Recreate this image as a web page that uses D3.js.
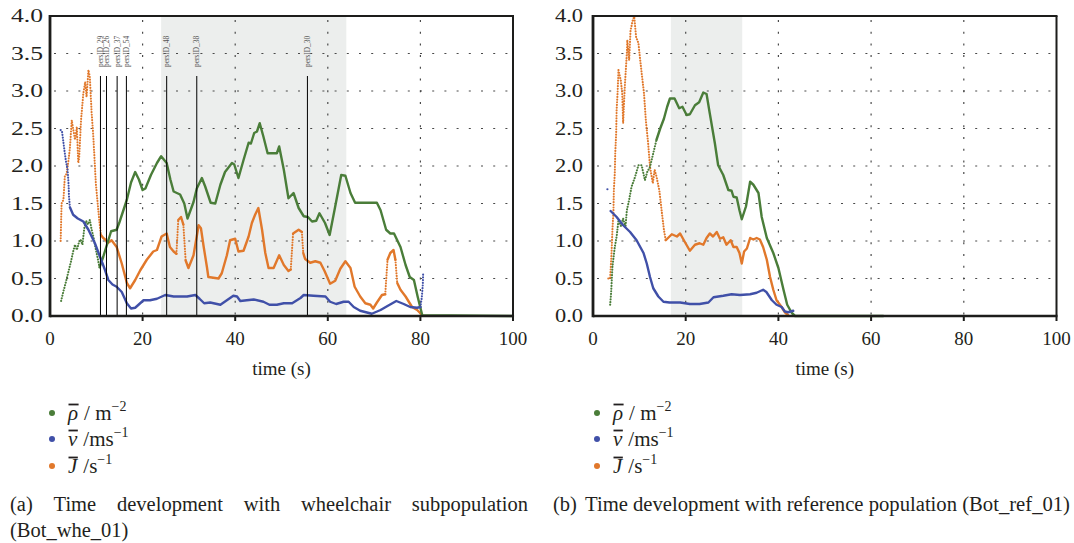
<!DOCTYPE html>
<html><head><meta charset="utf-8">
<script src="https://cdn.jsdelivr.net/npm/d3@7"></script>
<style>
body{margin:0;background:#fff}
svg{display:block}
text{font-family:"Liberation Serif","DejaVu Serif",serif;fill:#231f20}
</style>
</head><body>
<svg id="c" width="1074" height="543"></svg>
<script>
// ---------- data ----------
const yTicks = [0, 0.5, 1, 1.5, 2, 2.5, 3, 3.5, 4];
const xTicks = [0, 20, 40, 60, 80, 100];
const gridY = [0.5, 1, 1.5, 2, 2.5, 3, 3.5];
const gridX = [20, 40, 60, 80];

// (a) wheelchair subpopulation (Bot_whe_01)
const wheShade = [24, 64];
const wheRhoEarly = [[2.4,0.20],[2.9,0.33],[3.3,0.42],[3.7,0.52],[4.1,0.62],[4.5,0.72],[5.0,0.86],[5.4,0.95],[5.8,0.88],[6.2,0.97],[6.6,1.02],[7.0,0.95],[7.4,1.17],[7.8,1.27],[8.2,1.22],[8.6,1.28],[9.0,1.15],[9.4,1.05],[9.8,0.92],[10.2,0.80],[10.7,0.65]];
const wheRho = [[10.7,0.65],[11.5,0.79],[12.3,0.95],[13.2,1.13],[14.4,1.15],[15.0,1.25],[16.6,1.55],[17.5,1.78],[18.4,1.92],[19.2,1.82],[20.0,1.68],[20.6,1.70],[21.8,1.88],[23.1,2.04],[24.0,2.13],[25.2,2.04],[26.0,1.82],[26.7,1.66],[28.1,1.62],[29.0,1.50],[29.7,1.30],[31.0,1.52],[31.7,1.70],[32.8,1.84],[33.5,1.73],[34.7,1.51],[35.7,1.50],[36.8,1.75],[37.8,1.92],[39.3,2.04],[39.8,2.02],[40.7,1.84],[41.8,2.08],[42.9,2.31],[43.4,2.30],[44.1,2.44],[44.7,2.46],[45.3,2.57],[46.1,2.39],[47.0,2.17],[49.0,2.17],[49.5,2.26],[50.5,1.95],[51.5,1.57],[52.6,1.64],[53.7,1.44],[54.8,1.33],[55.7,1.32],[56.6,1.26],[57.5,1.27],[58.2,1.37],[59.4,1.24],[60.4,1.08],[61.6,1.46],[62.9,1.88],[63.8,1.87],[64.9,1.64],[65.9,1.51],[70.6,1.51],[71.4,1.41],[72.6,1.15],[73.5,1.10],[74.3,1.10],[75.7,0.92],[76.8,0.68],[77.7,0.52],[78.6,0.48],[79.4,0.26],[80.4,0.01],[100,0]];
const wheVEarly = [[2.3,2.48],[2.6,2.46],[3.1,2.22],[3.4,2.08],[3.8,1.95],[4.0,1.77],[4.1,1.60],[4.3,1.45]];
const wheV = [[4.3,1.45],[5.0,1.35],[6.0,1.30],[7.2,1.26],[8.3,1.15],[9.7,0.97],[10.8,0.79],[11.9,0.61],[12.6,0.48],[13.5,0.42],[14.4,0.39],[15.5,0.32],[16.6,0.17],[17.5,0.10],[18.4,0.11],[19.3,0.16],[20.2,0.21],[21.6,0.21],[23.1,0.23],[24.9,0.28],[26.7,0.26],[29.6,0.26],[31.4,0.28],[32.3,0.23],[33.3,0.17],[34.6,0.18],[36.8,0.15],[38.2,0.21],[39.6,0.27],[40.4,0.26],[41.1,0.20],[42.5,0.21],[44.0,0.22],[46.1,0.19],[47.4,0.15],[49.0,0.15],[50.5,0.17],[52.3,0.17],[54.1,0.24],[54.8,0.28],[56.9,0.27],[59.5,0.26],[60.5,0.19],[61.8,0.16],[63.4,0.19],[64.5,0.19],[65.6,0.12],[67.0,0.07],[69.5,0.03],[71.4,0.08],[72.8,0.13],[74.8,0.20],[76.4,0.16],[77.8,0.12],[79.3,0.11],[80.0,0.12]];
const wheVLate = [[80.0,0.12],[80.3,0.25],[80.5,0.40],[80.6,0.57]];
const wheJEarly = [[2.3,1.00],[2.5,1.50],[2.9,1.55],[3.2,1.86],[3.6,1.90],[4.0,2.08],[4.3,2.24],[4.7,2.61],[5.0,2.50],[5.4,2.35],[5.8,2.52],[6.1,2.04],[6.3,2.11],[6.7,2.61],[7.2,2.97],[7.6,3.12],[7.9,2.92],[8.3,3.28],[8.6,3.19],[9.0,2.70],[9.3,2.45],[9.6,2.12],[9.9,1.77],[10.3,1.50],[10.7,1.24],[11.0,1.08]];
const wheJ = [[11.0,1.08],[11.5,1.04],[12.1,1.01],[12.4,0.97],[13.3,1.01],[14.4,0.92],[15.5,0.70],[16.6,0.44],[17.3,0.37],[18.4,0.48],[19.5,0.61],[20.9,0.75],[22.3,0.86],[23.1,0.88],[24.1,1.06],[25.2,1.10],[25.9,0.92],[26.7,0.86],[27.3,0.83],[27.7,1.28],[28.3,1.32],[28.8,1.22],[29.3,0.74],[29.9,0.64],[31.0,0.81],[32.1,1.21],[32.6,1.17],[33.2,0.92],[33.9,0.65],[34.2,0.52],[35.3,0.51],[36.4,0.50],[37.1,0.57],[38.2,0.81],[38.9,1.01],[40.0,1.03],[40.7,0.86],[41.8,0.87],[42.9,1.06],[43.6,1.24],[44.3,1.35],[45.0,1.44],[45.8,1.15],[46.5,0.84],[47.2,0.64],[48.3,0.64],[49.5,0.81],[50.5,0.68],[51.5,0.60],[52.0,0.62],[52.5,1.10],[53.7,1.15],[54.4,1.12],[54.7,0.84],[55.1,0.76],[56.2,0.71],[57.3,0.73],[58.4,0.71],[59.3,0.60],[60.5,0.43],[61.6,0.47],[62.7,0.63],[63.8,0.73],[64.9,0.64],[65.8,0.39],[67.0,0.26],[68.1,0.17],[69.2,0.15],[69.8,0.10],[70.6,0.18],[71.7,0.28],[72.4,0.29],[72.9,0.75],[73.5,0.84],[74.2,0.88],[74.6,0.75],[75.0,0.44],[75.7,0.35],[76.8,0.26],[78.2,0.12],[79.3,0.08],[80.4,0.01]];
const whePersIds = ["persID_29", "persID_26", "persID_37", "persID_54", "persID_48", "persID_38", "persID_30"];
const whePersTimes = [10.9, 12.2, 14.5, 16.5, 25.2, 31.7, 55.6];
const whePersTop = 3.2;

// (b) reference population (Bot_ref_01)
const refShade = [16.8, 32.2];
const refRhoEarly = [[3.7,0.15],[3.9,0.30],[4.2,0.66],[4.7,0.92],[5.1,1.06],[5.5,1.28],[6.0,1.20],[6.5,1.30],[7.0,1.18],[7.3,1.41],[7.8,1.55],[8.3,1.72],[9.1,1.86],[9.8,2.01],[10.5,2.01],[11.2,1.81],[11.7,1.92],[12.3,1.99],[13.0,2.17],[13.7,2.35]];
const refRho = [[13.7,2.35],[14.5,2.50],[15.3,2.63],[16.0,2.79],[16.6,2.90],[17.6,2.90],[18.6,2.77],[19.3,2.79],[20.2,2.68],[20.9,2.69],[22.0,2.81],[22.9,2.85],[23.8,2.98],[24.5,2.96],[25.2,2.70],[26.3,2.30],[27.0,2.01],[28.1,1.88],[29.2,1.68],[29.9,1.67],[30.3,1.59],[31.0,1.58],[31.6,1.41],[32.1,1.29],[33.0,1.46],[33.9,1.79],[34.6,1.75],[35.7,1.64],[36.4,1.32],[37.5,1.04],[38.9,0.84],[40.0,0.64],[41.1,0.35],[41.9,0.15],[42.9,0.04],[43.6,0],[62.6,0]];
const refVEarly = [[3.1,1.69],[3.6,1.69]];
const refV = [[3.8,1.40],[5.1,1.32],[6.5,1.21],[8.0,1.12],[9.4,1.01],[10.9,0.84],[11.6,0.70],[12.3,0.52],[13.0,0.37],[14.1,0.26],[15.2,0.19],[16.5,0.18],[18.8,0.18],[20.9,0.16],[23.0,0.16],[24.9,0.18],[26.0,0.25],[28.1,0.27],[29.9,0.29],[31.7,0.28],[33.9,0.29],[35.3,0.31],[36.7,0.35],[37.4,0.32],[38.6,0.21],[39.6,0.15],[40.7,0.12],[41.4,0.06],[42.1,0.05],[43.2,0.07]];
const refJEarly = [[3.3,0.50],[3.7,0.50],[4.0,0.84],[4.2,1.16],[4.4,1.37],[4.5,1.68],[4.7,1.90],[4.8,2.17],[5.0,2.44],[5.1,2.75],[5.3,2.97],[5.5,3.28],[6.0,3.14],[6.3,2.97],[6.5,2.57],[6.7,2.85],[6.9,3.10],[7.3,3.50],[7.4,3.68],[7.8,3.41],[8.1,3.81],[8.6,3.95],[8.9,3.99],[9.3,3.72],[9.8,3.64],[10.1,3.46],[10.5,3.24],[11.0,2.97],[11.4,2.61],[11.9,2.30],[12.3,1.99],[12.9,1.77],[13.3,1.95],[13.7,1.86],[14.3,1.68],[14.8,1.41],[15.3,1.15],[15.7,1.01]];
const refJ = [[15.7,1.01],[17.0,1.09],[18.1,1.06],[18.8,1.10],[19.6,1.01],[20.9,0.87],[22.0,0.95],[23.0,0.97],[23.8,0.95],[24.5,1.04],[25.2,1.10],[25.9,1.06],[26.7,1.12],[27.4,1.03],[28.1,1.05],[28.8,0.95],[29.7,1.01],[30.3,0.92],[31.0,0.92],[31.6,0.84],[32.1,0.70],[32.6,0.86],[33.2,0.90],[33.9,1.04],[34.6,1.02],[35.3,1.04],[36.0,1.02],[36.7,0.92],[37.5,0.75],[38.2,0.52],[38.9,0.35],[39.6,0.21],[40.7,0.12],[41.4,0.05],[42.1,0.01]];

const legendSymbols = ["ρ", "v", "J"];
const legendUnits = ["/ m", "/ms", "/s"];
const legendExps = ["−2", "−1", "−1"];
const xTitle = "time (s)";
const captionA = ["(a)", "Time", "development", "with", "wheelchair", "subpopulation"];
const captionA2 = "(Bot_whe_01)";
const captionBLabel = "(b)";
const captionB = "Time development with reference population (Bot_ref_01)";

// ---------- styles ----------
const C = {rho: "#4a7d39", v: "#4050a8", J: "#e1782b", shade: "#eceeed", grid: "#4a4a4a", axis: "#1d1d1b"};

const svg = d3.select("#c");

function drawSeries(g, x, y, data, color, dottedAll) {
  const line = d3.line().x(d => x(d[0])).y(d => y(d[1]));
  const solidStyle = p => p.attr("fill", "none").attr("stroke", color).attr("stroke-width", 2.4)
    .attr("stroke-linejoin", "round").attr("stroke-linecap", "round");
  const dotStyle = p => p.attr("fill", "none").attr("stroke", color).attr("stroke-width", 2.1)
    .attr("stroke-linecap", "round").attr("stroke-dasharray", "0.1 2.6");
  if (dottedAll) { g.append("path").attr("d", line(data)).call(dotStyle); return; }
  let runs = [], cur = null;
  for (let i = 1; i < data.length; i++) {
    const a = data[i-1], b = data[i];
    const steep = Math.abs(b[1]-a[1]) / Math.max(1e-6, b[0]-a[0]) > 0.7;
    if (!cur || cur.steep !== steep) { cur = {steep, pts: [a]}; runs.push(cur); }
    cur.pts.push(b);
  }
  runs.forEach(r => g.append("path").attr("d", line(r.pts)).call(r.steep ? dotStyle : solidStyle));
}

function panel(cfg) {
  const g = svg.append("g");
  const x = d3.scaleLinear().domain([0, 100]).range([cfg.x0, cfg.x1]);
  const y = d3.scaleLinear().domain([0, 4]).range([316, 16]);

  g.append("rect").attr("x", x(cfg.shade[0])).attr("y", y(4))
    .attr("width", x(cfg.shade[1]) - x(cfg.shade[0])).attr("height", y(0) - y(4)).attr("fill", C.shade);

  g.selectAll(".gy").data(gridY).enter().append("line")
    .attr("x1", cfg.x0 + 4).attr("x2", cfg.x1).attr("y1", d => y(d)).attr("y2", d => y(d))
    .attr("stroke", C.grid).attr("stroke-width", 1.2).attr("stroke-dasharray", "2 10.2");
  g.selectAll(".gx").data(gridX).enter().append("line")
    .attr("x1", d => x(d)).attr("x2", d => x(d)).attr("y1", y(4) + 4).attr("y2", y(0))
    .attr("stroke", C.grid).attr("stroke-width", 1.2).attr("stroke-dasharray", "2 9.7");

  const S = cfg.series;
  drawSeries(g, x, y, S.JEarly, C.J, true);
  drawSeries(g, x, y, S.J, C.J, false);
  drawSeries(g, x, y, S.rhoEarly, C.rho, true);
  drawSeries(g, x, y, S.rho, C.rho, false);
  drawSeries(g, x, y, S.vEarly, C.v, true);
  drawSeries(g, x, y, S.v, C.v, false);
  if (S.vLate) drawSeries(g, x, y, S.vLate, C.v, true);

  if (cfg.persTimes) {
    cfg.persTimes.forEach((t, i) => {
      g.append("line").attr("x1", x(t)).attr("x2", x(t)).attr("y1", y(whePersTop)).attr("y2", y(0))
        .attr("stroke", "#000").attr("stroke-width", 1);
      g.append("text").attr("transform", `translate(${x(t) + 2.4},67) rotate(-90)`)
        .attr("font-size", 7.4).style("fill", "#555").text(cfg.persIds[i]);
    });
  }

  const ax = g.append("g").attr("stroke", C.axis).attr("fill", "none");
  ax.append("line").attr("x1", cfg.x0).attr("x2", cfg.x1 + 1).attr("y1", y(4)).attr("y2", y(4)).attr("stroke-width", 2);
  ax.append("line").attr("x1", cfg.x1).attr("x2", cfg.x1).attr("y1", y(4)).attr("y2", y(0)).attr("stroke-width", 2);
  ax.append("line").attr("x1", cfg.x0).attr("x2", cfg.x1 + 1).attr("y1", y(0)).attr("y2", y(0)).attr("stroke-width", 2.6);
  ax.append("line").attr("x1", cfg.x0).attr("x2", cfg.x0).attr("y1", y(4) - 1).attr("y2", y(0) + 1.3).attr("stroke-width", 2.8);
  ax.selectAll(".tk").data(xTicks.slice(1)).enter().append("line")
    .attr("x1", d => x(d)).attr("x2", d => x(d)).attr("y1", y(0)).attr("y2", y(0) + 5).attr("stroke-width", 2);

  g.selectAll(".yl").data(yTicks).enter().append("text")
    .attr("x", cfg.yLabelRight).attr("y", d => y(d)).attr("dy", "0.35em")
    .attr("text-anchor", "end").attr("font-size", 18)
    .attr("textLength", cfg.yLabelLen).attr("lengthAdjust", "spacingAndGlyphs")
    .text(d => d.toFixed(1));
  g.selectAll(".xl").data(xTicks).enter().append("text")
    .attr("x", d => x(d)).attr("y", 338).attr("dy", "0.35em")
    .attr("text-anchor", "middle").attr("font-size", 19).text(d => d);
  g.append("text").attr("x", (cfg.x0 + cfg.x1) / 2).attr("y", 368).attr("dy", "0.35em")
    .attr("text-anchor", "middle").attr("font-size", 19).text(xTitle);

  const colors = [C.rho, C.v, C.J];
  const rows = [420, 446, 473];
  legendSymbols.forEach((s, i) => {
    const by = rows[i];
    g.append("circle").attr("cx", cfg.legX).attr("cy", by - 7).attr("r", 3).attr("fill", colors[i]);
    const sym = g.append("text").attr("x", cfg.legX + 16).attr("y", by).attr("font-size", 21)
      .attr("font-style", "italic").text(s);
    const w = sym.node().getComputedTextLength();
    g.append("line").attr("x1", cfg.legX + 16.5).attr("x2", cfg.legX + 16 + w + 0.5)
      .attr("y1", by - 15.5).attr("y2", by - 15.5).attr("stroke", "#231f20").attr("stroke-width", 1.8);
    const t = g.append("text").attr("x", cfg.legX + 16 + w + 6).attr("y", by).attr("font-size", 21);
    t.append("tspan").text(legendUnits[i]);
    t.append("tspan").attr("dy", -9).attr("font-size", 14).text(legendExps[i]);
  });
  return g;
}

panel({x0: 50, x1: 513, yLabelRight: 43, yLabelLen: 32, legX: 52, shade: wheShade,
  persTimes: whePersTimes, persIds: whePersIds,
  series: {rho: wheRho, rhoEarly: wheRhoEarly, v: wheV, vEarly: wheVEarly, vLate: wheVLate, J: wheJ, JEarly: wheJEarly}});
panel({x0: 593, x1: 1056.5, yLabelRight: 583, yLabelLen: 28, legX: 597, shade: refShade,
  series: {rho: refRho, rhoEarly: refRhoEarly, v: refV, vEarly: refVEarly, J: refJ, JEarly: refJEarly}});

(function(){
  const fs = 20.5, left = 10, right = 528, base = 511;
  const ws = captionA.map(w => {
    const t = svg.append("text").attr("y", base).attr("font-size", fs).text(w);
    return {t, w: t.node().getComputedTextLength()};
  });
  const total = d3.sum(ws, d => d.w);
  const gap = (right - left - total) / (ws.length - 1);
  let cx = left;
  ws.forEach(d => { d.t.attr("x", cx); cx += d.w + gap; });
  svg.append("text").attr("x", left).attr("y", base + 25.5).attr("font-size", fs).text(captionA2);
  svg.append("text").attr("x", 553).attr("y", base).attr("font-size", fs).text(captionBLabel);
  svg.append("text").attr("x", 585).attr("y", base).attr("font-size", fs)
    .attr("textLength", 485).attr("lengthAdjust", "spacingAndGlyphs").text(captionB);
})();
</script>
</body></html>
